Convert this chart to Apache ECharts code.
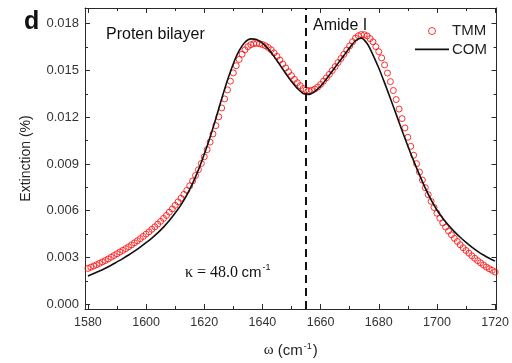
<!DOCTYPE html>
<html>
<head>
<meta charset="utf-8">
<script src="https://cdn.jsdelivr.net/npm/echarts@6/dist/echarts.min.js"></script>
<style>html,body{margin:0;padding:0;background:#fff;}#c{width:512px;height:363px;}</style>
</head>
<body>
<div id="c"></div>
<script>
// ---- data ----
const omegaTMM = [1580,1581,1582,1583,1584,1585,1586,1587,1588,1589,1590,1591,1592,1593,1594,1595,1596,1597,1598,1599,
1600,1601,1602,1603,1604,1605,1606,1607,1608,1609,1610,1611,1612,1613,1614,1615,1616,1617,1618,1619,
1620,1621,1622,1623,1624,1625,1626,1627,1628,1629,1630,1631,1632,1633,1634,1635,1636,1637,1638,1639,
1640,1641,1642,1643,1644,1645,1646,1647,1648,1649,1650,1651,1652,1653,1654,1655,1656,1657,1658,1659,
1660,1661,1662,1663,1664,1665,1666,1667,1668,1669,1670,1671,1672,1673,1674,1675,1676,1677,1678,1679,
1680,1681,1682,1683,1684,1685,1686,1687,1688,1689,1690,1691,1692,1693,1694,1695,1696,1697,1698,1699,
1700,1701,1702,1703,1704,1705,1706,1707,1708,1709,1710,1711,1712,1713,1714,1715,1716,1717,1718,1719,1720];
const extTMM = [0.00230,0.00238,0.00246,0.00254,0.00263,0.00272,0.00281,0.00291,0.00302,0.00313,
0.00324,0.00335,0.00346,0.00357,0.00369,0.00381,0.00394,0.00407,0.00421,0.00435,
0.00450,0.00465,0.00481,0.00497,0.00514,0.00532,0.00551,0.00570,0.00591,0.00612,
0.00635,0.00657,0.00680,0.00705,0.00731,0.00760,0.00791,0.00826,0.00863,0.00903,
0.00946,0.00992,0.01040,0.01092,0.01146,0.01202,0.01259,0.01317,0.01375,0.01431,
0.01484,0.01530,0.01570,0.01604,0.01632,0.01652,0.01665,0.01671,0.01673,0.01671,
0.01666,0.01658,0.01647,0.01632,0.01612,0.01590,0.01566,0.01541,0.01516,0.01491,
0.01466,0.01443,0.01421,0.01402,0.01384,0.01374,0.01370,0.01372,0.01380,0.01393,
0.01410,0.01431,0.01452,0.01475,0.01499,0.01524,0.01550,0.01576,0.01603,0.01630,
0.01657,0.01684,0.01707,0.01722,0.01730,0.01729,0.01721,0.01704,0.01683,0.01652,
0.01620,0.01580,0.01535,0.01483,0.01428,0.01371,0.01313,0.01252,0.01191,0.01131,
0.01071,0.01013,0.00956,0.00902,0.00848,0.00797,0.00748,0.00703,0.00660,0.00621,
0.00584,0.00552,0.00522,0.00495,0.00470,0.00446,0.00423,0.00403,0.00382,0.00363,
0.00345,0.00328,0.00311,0.00295,0.00280,0.00266,0.00252,0.00239,0.00228,0.00218,0.00207];
const omegaCOM = [1580,1582,1584,1586,1588,1590,1592,1594,1596,1598,1600,1602,1604,1606,1608,1610,1612,1614,1616,1618,
1620,1622,1624,1626,1628,1630,1632,1634,1636,1638,1640,1642,1644,1646,1648,1650,1652,1654,1656,1658,
1660,1662,1664,1666,1668,1670,1672,1674,1676,1678,1680,1682,1684,1686,1688,1690,1692,1694,1696,1698,
1700,1702,1704,1706,1708,1710,1712,1714,1716,1718,1720];
const extCOM = [0.00182,0.00197,0.00213,0.00231,0.00251,0.00272,0.00293,0.00316,0.00341,0.00367,
0.00395,0.00425,0.00458,0.00495,0.00537,0.00585,0.00638,0.00700,0.00775,0.00862,
0.00962,0.01072,0.01192,0.01318,0.01438,0.01543,0.01626,0.01680,0.01702,0.01698,
0.01675,0.01638,0.01590,0.01535,0.01480,0.01428,0.01385,0.01352,0.01346,0.01365,
0.01398,0.01445,0.01495,0.01545,0.01595,0.01645,0.01690,0.01707,0.01672,0.01600,
0.01515,0.01420,0.01320,0.01218,0.01115,0.01015,0.00920,0.00830,0.00745,0.00670,
0.00605,0.00552,0.00507,0.00466,0.00430,0.00397,0.00367,0.00340,0.00316,0.00295,0.00277];
const amideI = 1655;
const xMajor = [1580,1600,1620,1640,1660,1680,1700,1720];
const xMinor = [1590,1610,1630,1650,1670,1690,1710];
const yMajor = [0.000,0.003,0.006,0.009,0.012,0.015,0.018];
const yMinor = [0.0015,0.0045,0.0075,0.0105,0.0135,0.0165];
const xRange = [1579, 1720.5];
const yRange = [-0.0003, 0.019];

// ---- chart ----
const AX = '#2a2a2a';
const SANS = '"Liberation Sans", Arial, sans-serif';
const SERIF = '"Liberation Serif", "Times New Roman", serif';
function xAx(pos, ticks, len, line, labels) {
  return {
    type: 'value', position: pos, min: xRange[0], max: xRange[1],
    axisLine: {show: line, onZero: false, lineStyle: {color: AX, width: 1}},
    axisTick: {show: true, inside: true, length: len, customValues: ticks, lineStyle: {color: AX, width: 1}},
    axisLabel: labels ? {show: true, customValues: ticks, color: '#333', fontSize: 12.5, fontFamily: SANS, margin: 7,
                         formatter: v => String(Math.round(v))}
                      : {show: false},
    splitLine: {show: false}, minorTick: {show: false}
  };
}
function yAx(pos, ticks, len, line, labels) {
  return {
    type: 'value', position: pos, min: yRange[0], max: yRange[1],
    axisLine: {show: line, onZero: false, lineStyle: {color: AX, width: 1}},
    axisTick: {show: true, inside: true, length: len, customValues: ticks, lineStyle: {color: AX, width: 1}},
    axisLabel: labels ? {show: true, customValues: ticks, color: '#333', fontSize: 13, fontFamily: SANS, margin: 6,
                         formatter: v => v.toFixed(3)} : {show: false},
    splitLine: {show: false}, minorTick: {show: false}
  };
}
const xAxes = [xAx('bottom', xMajor, 5, true, true), xAx('bottom', xMinor, 3, false, false),
               xAx('top', xMajor, 5, true, false), xAx('top', xMinor, 3, false, false)];
Object.assign(xAxes[0], {
  name: '{w|ω} (cm{sup|-1})', nameLocation: 'middle', nameGap: 33,
  nameTextStyle: {fontSize: 15, fontFamily: SANS, color: '#222',
    rich: {w: {fontFamily: SERIF, fontSize: 15, color: '#222'},
           sup: {fontSize: 9, fontFamily: SANS, color: '#222', verticalAlign: 'top', padding: [0,1,8,1]}}}
});
const yAxes = [yAx('left', yMajor, 5, true, true), yAx('left', yMinor, 3, false, false),
               yAx('right', yMajor, 5, true, false), yAx('right', yMinor, 3, false, false)];
Object.assign(yAxes[0], {
  name: 'Extinction (%)', nameLocation: 'middle', nameGap: 52,
  nameTextStyle: {fontSize: 14, fontFamily: SANS, color: '#222'}
});

const chart = echarts.init(document.getElementById('c'), null, {renderer: 'canvas'});
chart.setOption({
  animation: false,
  backgroundColor: '#fff',
  grid: {left: 85, right: 10.5, top: 8, bottom: 50.3, containLabel: false},
  xAxis: xAxes,
  yAxis: yAxes,
  legend: {
    orient: 'vertical', left: 415, top: 23.5, padding: 0,
    itemWidth: 34, itemHeight: 7, itemGap: 3.4,
    textStyle: {fontSize: 15, fontFamily: SANS, color: '#222', padding: [0,0,0,-2]},
    data: [{name: 'TMM', itemStyle: {color: 'rgba(0,0,0,0)', borderColor: '#ff0000', borderWidth: 1}},
           {name: 'COM', icon: 'path://M0,0L34,0L34,1.6L0,1.6Z', itemStyle: {color: '#111', borderWidth: 0}}]
  },
  series: [
    {
      name: 'TMM', type: 'scatter', xAxisIndex: 0, yAxisIndex: 0,
      data: omegaTMM.map((w, i) => [w, extTMM[i]]),
      symbol: 'circle', symbolSize: 6,
      itemStyle: {color: 'rgba(0,0,0,0)', borderColor: '#ff0000', borderWidth: 1},
      z: 2
    },
    {
      name: 'COM', type: 'line', xAxisIndex: 0, yAxisIndex: 0,
      data: omegaCOM.map((w, i) => [w, extCOM[i]]),
      symbol: 'none', smooth: 0.3,
      lineStyle: {color: '#111', width: 1.6},
      itemStyle: {color: '#111'},
      z: 3,
      markLine: {
        silent: true, symbol: ['none', 'none'], label: {show: false},
        lineStyle: {color: '#111', width: 2, type: [8, 5]},
        data: [{xAxis: amideI}]
      }
    }
  ],
  graphic: [
    {type: 'text', left: 24, top: 10, style: {text: 'd', font: 'bold 25px ' + SANS, fill: '#111'}},
    {type: 'text', x: 106, y: 34.5, style: {text: 'Proten bilayer', font: '16px ' + SANS, fill: '#111', verticalAlign: 'middle'}},
    {type: 'text', x: 313, y: 26, style: {text: 'Amide I', font: '16px ' + SANS, fill: '#111', verticalAlign: 'middle'}},
    {type: 'text', x: 185, y: 272.5, style: {
      text: '{s|κ = 48.0} {c|cm}{p|-1}', verticalAlign: 'middle', fill: '#111',
      rich: {s: {fontFamily: SERIF, fontSize: 16, fill: '#111', lineHeight: 18},
             c: {fontFamily: SANS, fontSize: 15, fill: '#111', lineHeight: 18},
             p: {fontFamily: SANS, fontSize: 9, fill: '#111', lineHeight: 18, verticalAlign: 'top', padding: [0,0,8,1]}}
    }}
  ]
});
</script>
</body>
</html>
